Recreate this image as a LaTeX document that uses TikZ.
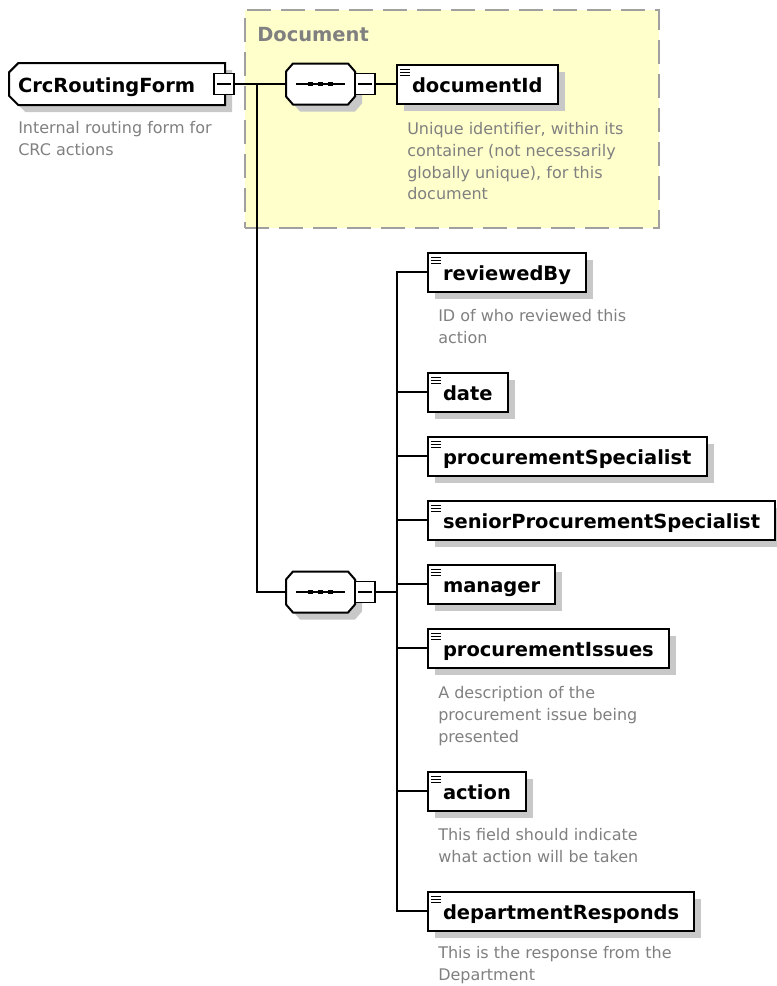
\documentclass[tikz,border=0pt]{standalone}
\usepackage{fontspec}
\setmainfont{DejaVu Sans}
\usetikzlibrary{shadows, backgrounds}
\definecolor{descgray}{RGB}{128,128,128}
\definecolor{groupfill}{RGB}{255,255,204}
\definecolor{groupline}{RGB}{160,160,160}
\definecolor{shadowgray}{RGB}{200,200,200}

\begin{document}
\begin{tikzpicture}[
        x=0.75pt, y=-0.75pt,
        conn/.style={line width=1.3pt, draw=black},
        boxshadow/.style={drop shadow={shadow xshift=5.25pt, shadow yshift=-5.25pt, fill=shadowgray, opacity=1}},
        element/.style={rectangle, draw=black, line width=1.5pt, fill=white, anchor=west,
            minimum height=29.25pt, inner xsep=11.25pt, text height=12.8pt, text depth=0pt,
            font=\fontsize{14.6pt}{17pt}\selectfont\bfseries, boxshadow,
            path picture={\foreach \d in {3.75,6,8.25}
                \draw[black, line width=0.6pt] ([xshift=2.5pt, yshift=-\d pt]path picture bounding box.north west) -- ++(7.5pt,0);}},
        root/.style={rectangle, anchor=west, outer sep=0pt,
            minimum height=31.5pt, inner xsep=6.75pt, text width=148.5pt, align=left,
            text height=12.8pt, text depth=0pt,
            font=\fontsize{14.6pt}{17pt}\selectfont\bfseries},
        seq/.style={rectangle, inner sep=0pt, outer sep=0pt,
            minimum width=51.75pt, minimum height=30.75pt,
            path picture={\draw[black, line width=0.9pt] ([xshift=-18.4pt]path picture bounding box.center) -- ([xshift=18.4pt]path picture bounding box.center);
                \foreach \dx in {-7.5,0,7.5}
                    \fill[black] ([xshift=\dx pt]path picture bounding box.center) +(-1.8pt,-1.8pt) rectangle +(1.8pt,1.8pt);}},
        octagon/.style={draw=black, line width=1.5pt, fill=white, boxshadow},
        minus/.style={rectangle, draw=black, line width=1.2pt, fill=white, inner sep=0pt,
            minimum width=15pt, minimum height=15.75pt,
            path picture={\draw[black, line width=0.9pt] ([xshift=2.5pt]path picture bounding box.west) -- ([xshift=-2.5pt]path picture bounding box.east);}},
        desc/.style={anchor=north west, inner sep=0pt, align=left, text=descgray,
            font=\fontsize{12pt}{16.2pt}\selectfont},
        group/.style={rectangle, draw=groupline, fill=groupfill, line width=1.2pt,
            dash pattern=on 18pt off 7.5pt, anchor=north west, inner sep=0pt,
            minimum width=310.5pt, minimum height=163.5pt},
        grouplabel/.style={anchor=west, inner sep=0pt, text=descgray,
            font=\fontsize{14.6pt}{17pt}\selectfont\bfseries}
    ]
        \useasboundingbox (0,0) rectangle (776,986);

        % root element
        \node[root] (crcRoutingForm) at (9,84) {CrcRoutingForm};
        \node[minus] (crcMinus) at (224,84) {};
        \node[desc] (crcDesc) at (18,121.5) {Internal routing form for\\CRC actions};

        % first sequence
        \node[seq] (seq1) at (320.5,84) {};
        \node[minus] (seq1Minus) at (365,84) {};
        \node[element] (documentId) at (396,84) {documentId};
        \node[desc] (documentIdDesc) at (407,122.5) {Unique identifier, within its\\container (not necessarily\\globally unique), for this\\document};

        % second sequence
        \node[seq] (seq2) at (320.5,592) {};
        \node[minus] (seq2Minus) at (365,592) {};
        \coordinate (crcFork) at (257,84);
        \coordinate (seqBus) at (397,592);

        \foreach \name/\ypos in {reviewedBy/272, date/392, procurementSpecialist/456,
                seniorProcurementSpecialist/520, manager/584, procurementIssues/648,
                action/791, departmentResponds/911}
            \node[element] (\name) at (427,\ypos) {\name};

        \node[desc] (reviewedByDesc) at (438,309.5) {ID of who reviewed this\\action};
        \node[desc] (procurementIssuesDesc) at (438,686.5) {A description of the\\procurement issue being\\presented};
        \node[desc] (actionDesc) at (438,828.5) {This field should indicate\\what action will be taken};
        \node[desc] (departmentRespondsDesc) at (438,946.5) {This is the response from the\\Department};

        % group box and outlines go under the nodes
        \begin{scope}[on background layer]
            \node[group] (docGroup) at (244,9) {};
            \node[grouplabel] (docLabel) at (257,35) {Document};
            \path[octagon] ([xshift=7pt]crcRoutingForm.north west) -- (crcRoutingForm.north east)
                -- (crcRoutingForm.south east) -- ([xshift=7pt]crcRoutingForm.south west)
                -- ([yshift=7pt]crcRoutingForm.south west) -- ([yshift=-7pt]crcRoutingForm.north west) -- cycle;
            \foreach \s in {seq1, seq2}
                \path[octagon] ([xshift=5.25pt]\s.north west) -- ([xshift=-5.25pt]\s.north east)
                    -- ([yshift=-6pt]\s.north east) -- ([yshift=6pt]\s.south east)
                    -- ([xshift=-5.25pt]\s.south east) -- ([xshift=5.25pt]\s.south west)
                    -- ([yshift=6pt]\s.south west) -- ([yshift=-6pt]\s.north west) -- cycle;
        \end{scope}

        % connectors
        \draw[conn] (crcMinus.east) -- (seq1.west);
        \draw[conn] (crcFork) |- (seq2.west);
        \draw[conn] (seq1Minus.east) -- (documentId.west);
        \draw[conn] (seq2Minus.east) -- (seqBus);
        \foreach \name in {reviewedBy, date, procurementSpecialist, seniorProcurementSpecialist,
                manager, procurementIssues, action, departmentResponds}
            \draw[conn] (seqBus) |- (\name.west);
    \end{tikzpicture}
\end{document}
